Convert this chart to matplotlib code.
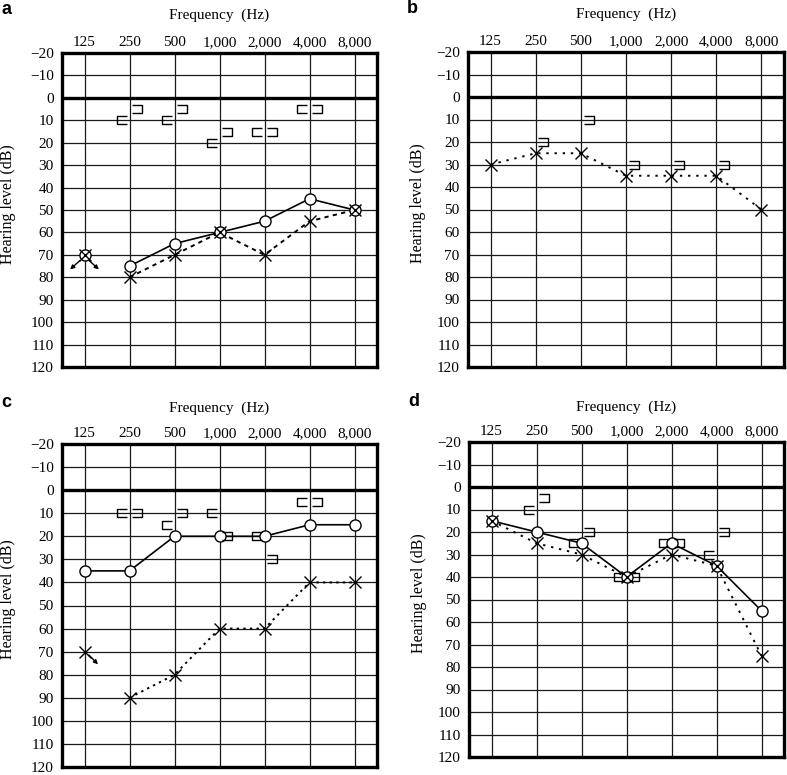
import numpy as np
import matplotlib
matplotlib.use("Agg")
import matplotlib.pyplot as plt
from matplotlib.path import Path

nan = np.nan

# частоты (подписи сверху)
freq_labels = ["125", "250", "500", "1,000", "2,000", "4,000", "8,000"]
db_ticks = list(range(-20, 121, 10))

# --- panel a ---
a_right_air = [nan, 75, 65, 60, 55, 45, 50]
a_left_air = [nan, 80, 70, 60, 70, 55, 50]
a_right_nr = [70, nan, nan, nan, nan, nan, nan]   # нет ответа
a_left_nr = [70, nan, nan, nan, nan, nan, nan]
a_bone_right = [nan, 10, 10, 20, 15, 5, nan]
a_bone_left = [nan, 5, 5, 15, 15, 5, nan]

# --- panel b ---
b_right_air = [nan] * 7
b_left_air = [30, 25, 25, 35, 35, 35, 50]
b_right_nr = [nan] * 7
b_left_nr = [nan] * 7
b_bone_right = [nan] * 7
b_bone_left = [nan, 20, 10, 30, 30, 30, nan]

# --- panel c ---
c_right_air = [35, 35, 20, 20, 20, 15, 15]
c_left_air = [nan, 90, 80, 60, 60, 40, 40]
c_right_nr = [nan] * 7
c_left_nr = [70, nan, nan, nan, nan, nan, nan]
c_bone_right = [nan, 10, 15, 10, 20, 5, nan]
c_bone_left = [nan, 10, 10, 20, 30, 5, nan]

# --- panel d ---
d_right_air = [15, 20, 25, 40, 25, 35, 55]
d_left_air = [15, 25, 30, 40, 30, 35, 75]
d_right_nr = [nan] * 7
d_left_nr = [nan] * 7
d_bone_right = [nan, 10, 25, 40, 25, 30, nan]
d_bone_left = [nan, 5, 20, 40, 25, 20, nan]

SERIF = "Liberation Serif"
W, H = 787, 775

# маркеры костной проводимости: ⊏ и ⊐
br_open_right = Path([(1, 0.8), (-1, 0.8), (-1, -0.8), (1, -0.8)],
                     [Path.MOVETO, Path.LINETO, Path.LINETO, Path.LINETO])
br_open_left = Path([(-1, 0.8), (1, 0.8), (1, -0.8), (-1, -0.8)],
                    [Path.MOVETO, Path.LINETO, Path.LINETO, Path.LINETO])


def px_axes(fig, left, right, top, bottom):
    return fig.add_axes([left / W, 1 - bottom / H, (right - left) / W, (bottom - top) / H])


def audiogram(ax, letter, right_air, left_air, right_nr, left_nr,
              bone_r, bone_l, dash, nr_arrows, ylab_off=-39, title_off=27):
    x = np.arange(len(freq_labels))
    ax.set_xlim(-0.5, 6.5)
    ax.set_ylim(120, -20)
    ax.set_xticks(x)
    ax.set_xticklabels(freq_labels, fontfamily=SERIF, fontsize=11)
    ax.set_yticks(db_ticks)
    ax.set_yticklabels([str(v).replace("-", "\u2212") for v in db_ticks],
                       fontfamily=SERIF, fontsize=11)
    ax.xaxis.tick_top()
    ax.tick_params(axis="x", length=0, pad=3)
    ax.tick_params(axis="y", length=0, pad=6)
    ax.grid(True, color="#1a1a1a", lw=0.9)
    ax.set_axisbelow(True)
    ax.axhline(0, color="black", lw=2.4, zorder=1)
    for s in ax.spines.values():
        s.set_linewidth(2.4)

    ax.annotate("Frequency  (Hz)", xy=(0.5, 1), xycoords="axes fraction",
                xytext=(0, title_off), textcoords="offset points",
                ha="center", va="center", fontfamily=SERIF, fontsize=11)
    ax.annotate("Hearing level (dB)", xy=(0, 0.52), xycoords="axes fraction",
                xytext=(ylab_off, 0), textcoords="offset points", rotation=90,
                ha="center", va="center", fontfamily=SERIF, fontsize=11.5)
    ax.annotate(letter, xy=(0, 1), xycoords="axes fraction",
                xytext=(-40, title_off + 4), textcoords="offset points",
                ha="center", va="center", fontfamily="Liberation Sans",
                fontweight="bold", fontsize=13)

    # линии воздушной проводимости
    ax.plot(x, right_air, color="black", lw=1.2, zorder=3)
    ax.plot(x, left_air, color="black", lw=1.4, linestyle=dash, zorder=3)
    # символы
    ax.plot(x, right_air, "o", ms=8, mfc="white", mec="black", mew=1, zorder=4)
    ax.plot(x, right_nr, "o", ms=8, mfc="white", mec="black", mew=1, zorder=4)
    ax.plot(x, left_air, "x", ms=9, mec="black", mew=1, zorder=5)
    ax.plot(x, left_nr, "x", ms=9, mec="black", mew=1, zorder=5)
    # костная проводимость
    ax.plot(x - 0.16, bone_r, linestyle="none", marker=br_open_right, ms=6.5,
            mfc="none", mec="black", mew=1, zorder=5)
    ax.plot(x + 0.17, bone_l, linestyle="none", marker=br_open_left, ms=6.5,
            mfc="none", mec="black", mew=1, zorder=5)
    # стрелки "нет ответа"
    for (x0, y0), (x1, y1) in nr_arrows:
        ax.annotate("", xy=(x1, y1), xytext=(x0, y0),
                    arrowprops=dict(arrowstyle="-|>", color="black", lw=1,
                                    mutation_scale=6, shrinkA=0, shrinkB=0),
                    zorder=6)


fig = plt.figure(figsize=(W / 100, H / 100), dpi=100)

ax_a = px_axes(fig, 62, 377, 53, 367)
audiogram(ax_a, "a", a_right_air, a_left_air, a_right_nr, a_left_nr,
          a_bone_right, a_bone_left, (0, (2.2, 2.2)),
          [((-0.1, 72.5), (-0.32, 76.5)), ((0.1, 72.5), (0.32, 76.5))])

ax_b = px_axes(fig, 468, 784, 52, 367)
audiogram(ax_b, "b", b_right_air, b_left_air, b_right_nr, b_left_nr,
          b_bone_right, b_bone_left, (0, (1.2, 3)), [], ylab_off=-36)

ax_c = px_axes(fig, 62, 377, 444, 767)
audiogram(ax_c, "c", c_right_air, c_left_air, c_right_nr, c_left_nr,
          c_bone_right, c_bone_left, (0, (1.2, 2.2)),
          [((0.1, 71.5), (0.3, 75.5))], title_off=26)

ax_d = px_axes(fig, 469, 784, 442, 757)
audiogram(ax_d, "d", d_right_air, d_left_air, d_right_nr, d_left_nr,
          d_bone_right, d_bone_left, (0, (1.2, 3)), [], ylab_off=-36,
          title_off=25)

fig.savefig("out.png", dpi=100)
